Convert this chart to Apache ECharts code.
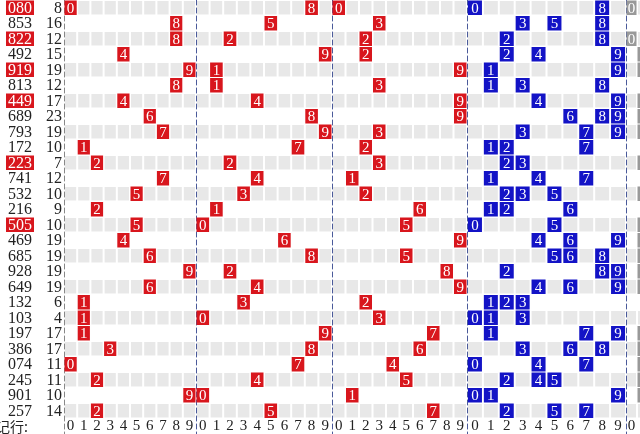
<!DOCTYPE html>
<html lang="zh-CN">
<head>
    <meta charset="UTF-8">
    <title>走势图</title>
    <script src="https://cdn.jsdelivr.net/npm/echarts@6/dist/echarts.min.js"></script>
    <style type="text/css">
        html,body{margin:0;padding:0;background:#fff;}
        #myChart{width:640px;height:434px;}
    </style>
</head>
<body>
<div id="myChart"></div>
<script type="text/javascript">
    // 开奖号码与和值
    var numbers = ['080','853','822','492','919','813','449','689','793','172','223','741','532','216',
                   '505','469','685','928','649','132','103','197','386','074','245','901','257'];
    var sums = [8,16,12,15,19,12,17,23,19,10,7,12,10,9,10,19,19,19,19,6,4,17,17,11,11,10,14];
    // 组选（含重号）行
    var pairRows = [0,2,4,6,10,14];
    // 右侧灰色区
    var grayZero = [0,2];
    var grayOne = [3,4,6,7,8,10,12,14,15,16,17,18,21,22,23,24,25];
    var digits = ['0','1','2','3','4','5','6','7','8','9'];
    var bottomLabel = '记行:';

    var rows = [];
    for (var i = 0; i <= numbers.length; i++) rows.push(String(i));
    var lastRow = numbers.length;

    var RED = '#d8161d', BLUE = '#1313c6', GRAY = '#999999', STRIPE = '#e8e8e8';
    var FONT = '15px "Liberation Serif"';

    // 最后一区只露出一格，用数值轴让后面的格子落到画布外
    var zones = [
        {left: 64, right: 444, max: 9.5},
        {left: 196, right: 308, max: 9.5},
        {left: 332, right: 173, max: 9.5},
        {left: 467, right: 14, max: 9.5},
        {left: 626, right: 3, max: 0.5}
    ];

    var grids = [{left: 4, top: 0, width: 60, height: 434}];
    var xAxes = [{gridIndex: 0, type: 'category', data: ['号码', '和值'], show: false}];
    var yAxes = [{gridIndex: 0, type: 'category', data: rows, inverse: true, show: false}];
    zones.forEach(function (z, k) {
        grids.push({left: z.left, right: z.right, top: 0, height: 434});
        xAxes.push({gridIndex: k + 1, type: 'value', min: -0.5, max: z.max, show: false});
        yAxes.push({gridIndex: k + 1, type: 'category', data: rows, inverse: true, position: 'left',
            axisLine: {show: true, onZero: false, lineStyle: {color: k === 0 ? '#888' : '#4a5a9a', type: [5, 3], width: 1}},
            axisTick: {show: false}, axisLabel: {show: false}, splitLine: {show: false}});
    });

    function cellBox(api, color, txt) {
        var c = api.coord([api.value(0), api.value(1)]);
        var s = api.size([1, 1]);
        var w = Math.min(s[0] - 1, 14), h = s[1] - 1;
        return {type: 'group', children: [
            {type: 'rect', shape: {x: c[0] - w / 2, y: c[1] - h / 2, width: w, height: h}, style: {fill: color}},
            {type: 'text', style: {x: c[0], y: c[1] + 1, text: txt, fill: '#fff', font: FONT,
                align: 'center', verticalAlign: 'middle'}}
        ]};
    }

    var series = [];

    // 左侧：号码与和值
    var leftData = numbers.map(function (n, r) { return [0, r, n, sums[r]]; });
    series.push({
        type: 'custom', xAxisIndex: 0, yAxisIndex: 0, data: leftData, silent: true,
        renderItem: function (params, api) {
            var r = api.value(1);
            var c = api.coord([0, r]);
            var s = api.size([1, 1]);
            var isPair = pairRows.indexOf(r) >= 0;
            var ch = [];
            if (isPair) ch.push({type: 'rect', shape: {x: c[0] - 13, y: c[1] - s[1] / 2 + 0.5, width: 28, height: s[1] - 1}, style: {fill: RED}});
            ch.push({type: 'text', style: {x: c[0] + 1, y: c[1] + 1, text: numbers[r], fill: isPair ? '#fff' : '#222',
                font: '16px "Liberation Serif"', align: 'center', verticalAlign: 'middle'}});
            ch.push({type: 'text', style: {x: c[0] + s[0] * 1.5 - 2, y: c[1] + 1, text: String(sums[r]), fill: '#222',
                font: '16px "Liberation Serif"', align: 'right', verticalAlign: 'middle'}});
            return {type: 'group', children: ch};
        }
    });
    series.push({
        type: 'custom', xAxisIndex: 0, yAxisIndex: 0, data: [[0, lastRow]], silent: true,
        renderItem: function (params, api) {
            var c = api.coord([0, lastRow]);
            return {type: 'text', style: {x: -4, y: c[1], text: bottomLabel, fill: '#222',
                font: '14px "Noto Sans CJK SC"', align: 'left', verticalAlign: 'middle'}};
        }
    });

    zones.forEach(function (z, k) {
        var gi = k + 1;
        // 灰色条纹
        var stripe = [];
        for (var r = 0; r < lastRow; r += 2) for (var d = 0; d < 10; d++) stripe.push([d, r]);
        series.push({
            type: 'custom', xAxisIndex: gi, yAxisIndex: gi, data: stripe, silent: true, z: 1, clip: false,
            renderItem: function (params, api) {
                var c = api.coord([api.value(0), api.value(1)]);
                var s = api.size([1, 1]);
                return {type: 'rect', shape: {x: c[0] - s[0] / 2 + 1, y: c[1] - s[1] / 2 + 1, width: s[0] - 2, height: s[1] - 2},
                    style: {fill: STRIPE}};
            }
        });
        // 底部坐标数字
        series.push({
            type: 'custom', xAxisIndex: gi, yAxisIndex: gi, data: digits.map(function (d, j) { return [j, lastRow]; }), silent: true, clip: false,
            renderItem: function (params, api) {
                var c = api.coord([api.value(0), lastRow]);
                return {type: 'text', style: {x: c[0], y: c[1], text: digits[api.value(0)], fill: '#222',
                    font: FONT, align: 'center', verticalAlign: 'middle'}};
            }
        });
        // 号码分布
        var marks = [], color = RED;
        if (k < 3) {
            numbers.forEach(function (n, r) { marks.push([+n[k], r]); });
        } else if (k === 3) {
            color = BLUE;
            numbers.forEach(function (n, r) {
                var seen = {};
                n.split('').forEach(function (ch) { if (!seen[ch]) { seen[ch] = 1; marks.push([+ch, r]); } });
            });
        } else {
            color = GRAY;
            grayZero.forEach(function (r) { marks.push([0, r]); });
            grayOne.forEach(function (r) { marks.push([1, r]); });
        }
        series.push({
            type: 'custom', xAxisIndex: gi, yAxisIndex: gi, data: marks, silent: true, z: 3, clip: false,
            renderItem: function (params, api) {
                return cellBox(api, color, String(api.value(0)));
            }
        });
    });

    var myChart = echarts.init(document.getElementById('myChart'));
    myChart.setOption({
        animation: false,
        grid: grids,
        xAxis: xAxes,
        yAxis: yAxes,
        series: series
    });
</script>
</body>
</html>
